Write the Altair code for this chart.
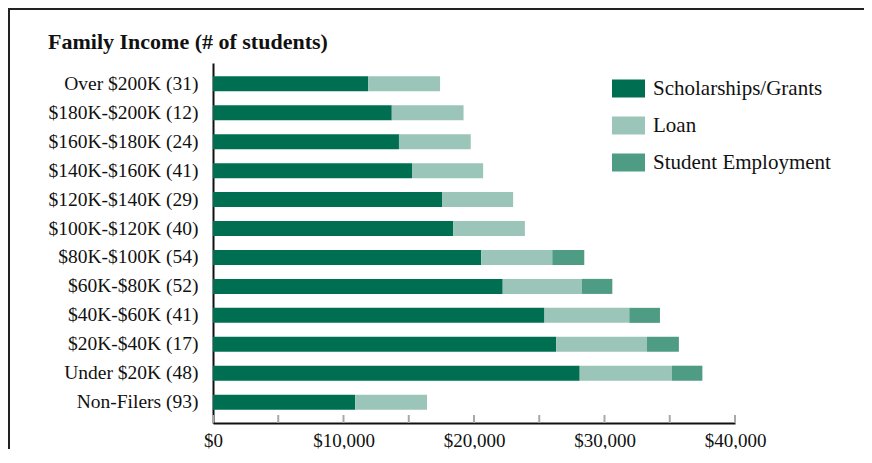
import altair as alt
import pandas as pd

categories = [
    "Over $200K (31)", "$180K-$200K (12)", "$160K-$180K (24)", "$140K-$160K (41)",
    "$120K-$140K (29)", "$100K-$120K (40)", "$80K-$100K (54)", "$60K-$80K (52)",
    "$40K-$60K (41)", "$20K-$40K (17)", "Under $20K (48)", "Non-Filers (93)",
]
grants = [11900, 13700, 14250, 15250, 17550, 18400, 20550, 22200, 25400, 26300, 28100, 10900]
loans = [5500, 5500, 5500, 5450, 5450, 5500, 5450, 6050, 6500, 6950, 7050, 5500]
employment = [0, 0, 0, 0, 0, 0, 2450, 2350, 2350, 2450, 2350, 0]

types = ["Scholarships/Grants", "Loan", "Student Employment"]
colors = ["#006f51", "#9bc5b8", "#4f9c85"]
tick_values = [0, 5000, 10000, 15000, 20000, 25000, 30000, 35000, 40000]
title_text = "Family Income (# of students)"

FONT = "Liberation Serif"

rows = []
for i, c in enumerate(categories):
    for k, (t, vals) in enumerate(zip(types, [grants, loans, employment])):
        rows.append({"category": c, "type": t, "value": vals[i], "order": k})
df = pd.DataFrame(rows)

x_axis = alt.Axis(
    title=None, values=tick_values, ticks=False, grid=False,
    labelExpr="datum.value % 10000 == 0 ? '$' + format(datum.value, ',') : ''",
    domainColor="#111111", domainWidth=2, labelFont=FONT, labelFontSize=19,
    labelColor="#111111", labelPadding=8, labelFlush=False, labelOverlap=False,
)
x_scale = alt.Scale(domain=[0, 40000], nice=False)

bars = alt.Chart(df).mark_bar().encode(
    x=alt.X("value:Q", stack="zero", scale=x_scale, axis=x_axis),
    y=alt.Y(
        "category:N",
        sort=categories,
        scale=alt.Scale(paddingInner=0.48, paddingOuter=0.46),
        axis=alt.Axis(
            title=None, ticks=False, domainColor="#111111", domainWidth=2,
            labelFont=FONT, labelFontSize=19.5, labelColor="#111111",
            labelPadding=15, labelLimit=400,
        ),
    ),
    color=alt.Color(
        "type:N",
        scale=alt.Scale(domain=types, range=colors),
        legend=alt.Legend(
            title=None, orient="none", legendX=399, legendY=9, padding=0,
            symbolType="M-1,-0.545H1V0.545H-1Z", symbolSize=1089,
            symbolStrokeWidth=0, symbolOpacity=1, labelOffset=8, rowPadding=10,
            labelFont=FONT, labelFontSize=21, labelColor="#111111", labelLimit=400,
        ),
    ),
    order=alt.Order("order:Q"),
)

ticks = alt.Chart(pd.DataFrame({"value": tick_values})).mark_rule(
    color="#a8a8a8", strokeWidth=2
).encode(
    x=alt.X("value:Q", scale=x_scale, axis=x_axis),
    y=alt.value(352),
    y2=alt.value(360),
)

one = pd.DataFrame({"a": [0]})
frame_top = alt.Chart(one).mark_rule(color="#222222", strokeWidth=2).encode(
    x=alt.value(-204), x2=alt.value(660), y=alt.value(-54)
)
frame_left = alt.Chart(one).mark_rule(color="#222222", strokeWidth=2).encode(
    x=alt.value(-204), y=alt.value(-55), y2=alt.value(400)
)
title = alt.Chart(one).mark_text(
    align="left", baseline="alphabetic", font=FONT, fontSize=22,
    fontWeight="bold", color="#111111",
).encode(x=alt.value(-165), y=alt.value(-14), text=alt.value(title_text))

chart = alt.layer(bars, ticks, frame_top, frame_left, title).properties(
    width=522,
    height=360,
    padding={"left": 205, "top": 55, "right": 129, "bottom": 26},
    autosize=alt.AutoSizeParams(type="none"),
).configure_view(strokeWidth=0)

chart.save("out.html", embed_options={"renderer": "svg", "actions": False})
